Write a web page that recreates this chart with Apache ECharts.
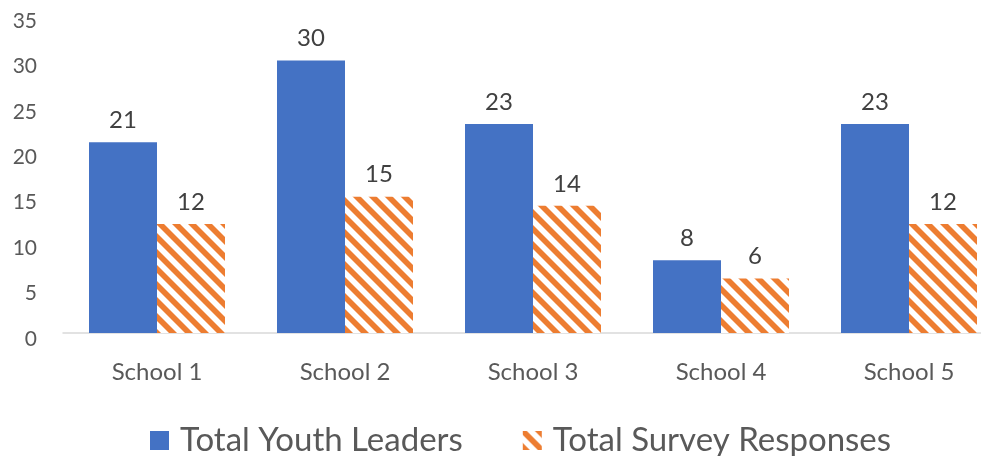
<!DOCTYPE html>
<html>
<head>
<meta charset="utf-8">
<script src="https://cdn.jsdelivr.net/npm/echarts@6/dist/echarts.min.js"></script>
<style>
html,body{margin:0;padding:0;background:#fff;}
#chart{width:981px;height:456px;}
</style>
</head>
<body>
<div id="chart"></div>
<script>
const categories = ['School 1', 'School 2', 'School 3', 'School 4', 'School 5'];
const youthLeaders = [21, 30, 23, 8, 23];
const surveyResponses = [12, 15, 14, 6, 12];
const seriesNames = ['Total Youth Leaders', 'Total Survey Responses'];

function stripePattern() {
  const size = 16;
  const c = document.createElement('canvas');
  c.width = size; c.height = size;
  const ctx = c.getContext('2d');
  ctx.fillStyle = '#ffffff';
  ctx.fillRect(0, 0, size, size);
  ctx.strokeStyle = '#ED7D31';
  ctx.lineWidth = 5.7;
  for (let k = -1; k <= 1; k++) {
    ctx.beginPath();
    ctx.moveTo(k * size - 2, -2);
    ctx.lineTo(k * size + size + 2, size + 2);
    ctx.stroke();
  }
  return c;
}

const chart = echarts.init(document.getElementById('chart'));
const FONT = 'Lato';
chart.setOption({
  animation: false,
  backgroundColor: '#ffffff',
  grid: { left: 63, width: 940, top: 15, bottom: 123, containLabel: false, outerBoundsMode: 'none' },
  legend: {
    left: 145, top: 419,
    itemWidth: 19, itemHeight: 19, itemGap: 60,
    icon: 'rect',
    textStyle: { fontFamily: FONT, fontSize: 33, color: '#595959', padding: [0, 0, 0, 6] },
    data: seriesNames
  },
  xAxis: {
    type: 'category',
    data: categories,
    axisLine: { lineStyle: { color: '#D9D9D9', width: 1.5 } },
    axisTick: { show: false },
    axisLabel: { fontFamily: FONT, fontSize: 24, color: '#595959', margin: 27 }
  },
  yAxis: {
    type: 'value',
    min: 0, max: 35, interval: 5,
    axisLine: { show: false },
    axisTick: { show: false },
    splitLine: { show: false },
    axisLabel: {
      margin: 26,
      formatter: '{a|{value}}',
      rich: { a: { fontFamily: FONT, fontSize: 21, color: '#595959', padding: [12, 0, 0, 0] } }
    }
  },
  series: [
    {
      name: seriesNames[0],
      type: 'bar',
      data: youthLeaders,
      barWidth: 68,
      barGap: '0%',
      itemStyle: { color: '#4472C4' },
      label: { show: true, position: 'top', distance: 10, fontFamily: FONT, fontSize: 24, color: '#404040' }
    },
    {
      name: seriesNames[1],
      type: 'bar',
      data: surveyResponses,
      barWidth: 68,
      barGap: '0%',
      itemStyle: { color: { image: stripePattern(), repeat: 'repeat' } },
      label: { show: true, position: 'top', distance: 10, fontFamily: FONT, fontSize: 24, color: '#404040' }
    }
  ]
});
</script>
</body>
</html>
